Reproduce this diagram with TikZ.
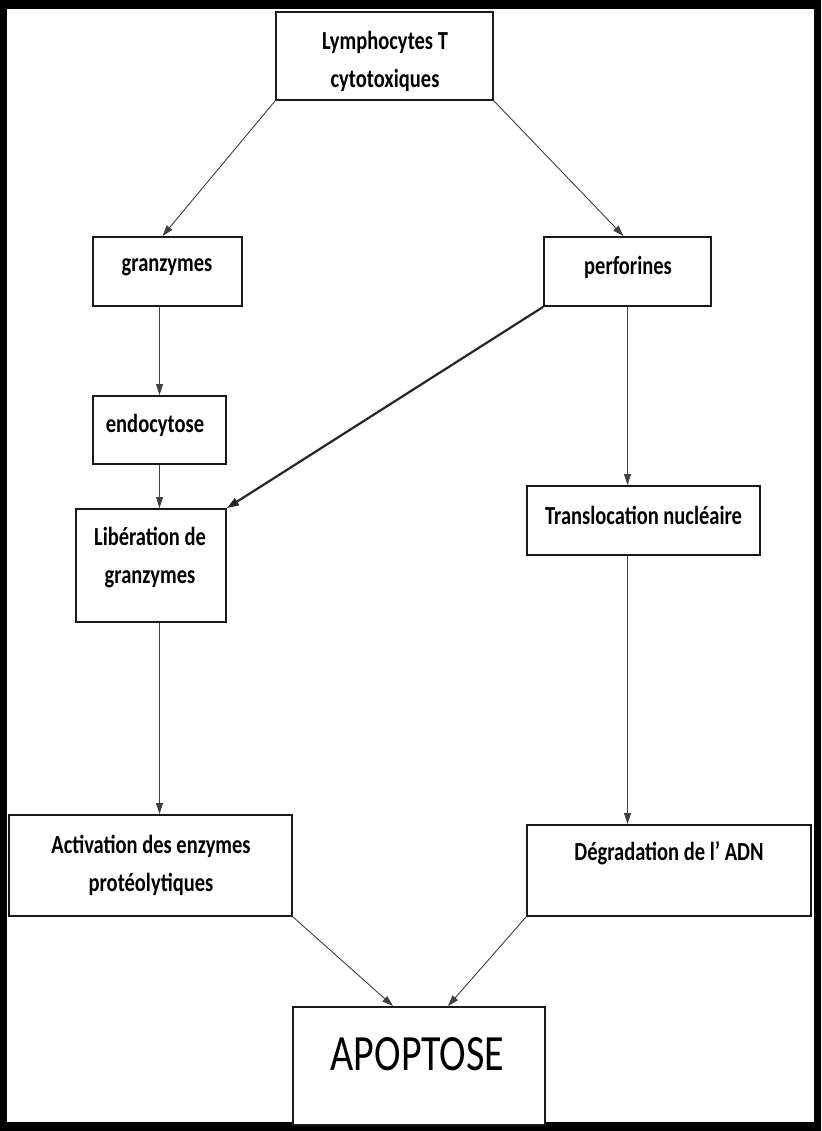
\documentclass[tikz,border=0pt]{standalone}
\usepackage{fontspec}
\setmainfont{Carlito}
\usetikzlibrary{arrows.meta,calc}
\begin{document}
\begin{tikzpicture}[x=1pt,y=-1pt,
  box/.style={draw=black!90,line width=1.9pt,inner sep=0pt,fill=white},
  lbl/.style={inner sep=0pt,align=center,font=\fontsize{20.5}{38}\selectfont\bfseries},
  conn/.style={draw=black!75,line width=0.9pt,-{Triangle[length=11pt,width=7pt]}},
  thickconn/.style={draw=black!85,line width=2.2pt,-{Triangle[length=12pt,width=8pt]}}]
\newcommand{\stretchtxt}[1]{\scalebox{1}[1.27]{#1}}
% frame
\fill[black] (0,0) rectangle (821,1131);
\fill[white] (7,9) rectangle (814,1122);
\useasboundingbox (0,0) rectangle (821,1131);
% boxes
\node[box,minimum width=217pt,minimum height=88pt] (L) at (384.5,56) {};
\node[box,minimum width=149pt,minimum height=69pt] (g) at (167.5,271.5) {};
\node[box,minimum width=167pt,minimum height=69pt] (p) at (627.5,271.5) {};
\node[box,minimum width=133pt,minimum height=68pt] (e) at (159.5,430) {};
\node[box,minimum width=150pt,minimum height=113pt] (lib) at (151,565.5) {};
\node[box,minimum width=233pt,minimum height=69pt] (t) at (643.5,520.5) {};
\node[box,minimum width=283pt,minimum height=101pt] (act) at (150.5,865.5) {};
\node[box,minimum width=284pt,minimum height=91pt] (d) at (669,870.5) {};
\node[box,minimum width=252pt,minimum height=118pt] (apo) at (419,1066) {};
% labels
\node[lbl] (tL) at (385,61) {\stretchtxt{Lymphocytes T}\\[0pt]\stretchtxt{cytotoxiques}};
\node[lbl] (tg) at (167,267) {\stretchtxt{granzymes}};
\node[lbl] (tp) at (628,267) {\stretchtxt{perforines}};
\node[lbl] (te) at (155,425) {\stretchtxt{endocytose}};
\node[lbl] (tlib) at (150,557.5) {\stretchtxt{Libération de}\\\stretchtxt{granzymes}};
\node[lbl] (tt) at (643.5,515) {\stretchtxt{Translocation nucléaire}};
\node[lbl] (tact) at (151,865) {\stretchtxt{Activation des enzymes}\\\stretchtxt{protéolytiques}};
\node[lbl] (td) at (669,853) {\stretchtxt{Dégradation de l’ ADN}};
\node[inner sep=0pt,font=\fontsize{40}{40}\selectfont] (tapo) at (417.5,1054) {\stretchtxt{APOPTOSE}};
% connectors
\draw[conn] (L.south west) -- ($(g.north)+(-5,0)$);
\draw[conn] (L.south east) -- ($(p.north)+(-4,0)$);
\draw[conn] (e.north |- g.south) -- (e.north);
\draw[conn] (e.south) -- (e.south |- lib.north);
\draw[thickconn] (p.south west) -- (lib.north east);
\draw[conn] (p.south) -- (p.south |- t.north);
\draw[conn] (e.south |- lib.south) -- (e.south |- act.north);
\draw[conn] (p.south |- t.south) -- (p.south |- d.north);
\draw[conn] (act.south east) -- ($(apo.north)+(-26,0)$);
\draw[conn] (d.south west) -- ($(apo.north)+(29,0)$);
\end{tikzpicture}
\end{document}
